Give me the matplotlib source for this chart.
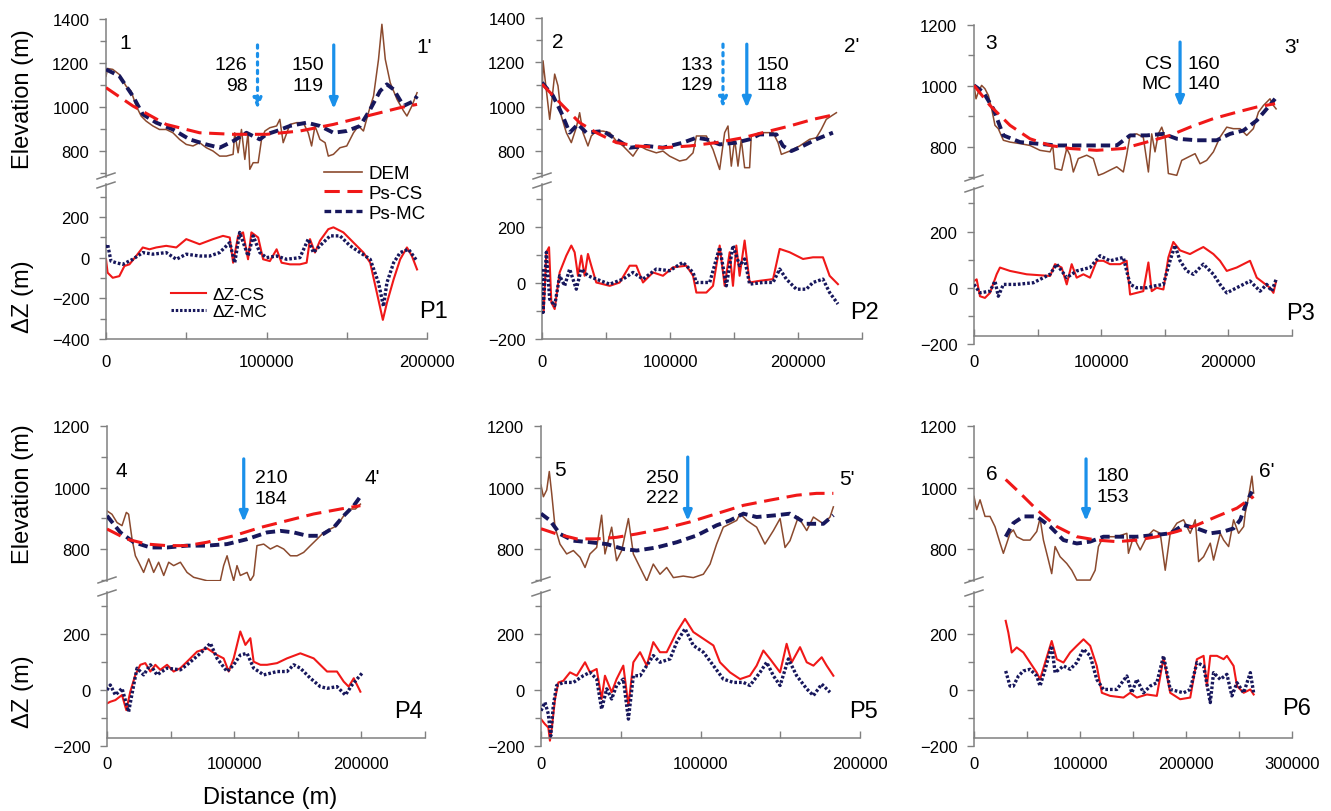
import numpy as np
import matplotlib
matplotlib.use('Agg')
import matplotlib.pyplot as plt
from matplotlib.lines import Line2D
from matplotlib.ticker import MultipleLocator, FixedLocator

plt.rcParams['font.family'] = ['Liberation Sans', 'DejaVu Sans']

W, H = 1331, 812
BROWN = '#8b4a2e'
RED = '#f01818'
NAVY = '#17175c'
BLUE = '#1a90ea'
GREY = '#808080'

# ---- profile data: (distance km, value) ----
p1_dem = [(0, 1140), (1.0, 1175), (4.2, 1171), (8.3, 1148), (12.5, 1095), (14.6, 1080), (15.6, 1073),
          (18.8, 1005), (21.9, 959), (25.0, 936), (29.2, 914), (33.3, 898), (37.5, 898), (41.7, 883),
          (45.8, 853), (50.0, 830), (54.2, 823), (58.3, 838), (62.5, 815), (66.7, 800), (70.8, 777),
          (75.0, 777), (79.2, 785), (80.2, 883), (82.3, 792), (84.4, 898), (86.5, 762), (88.5, 883),
          (89.6, 717), (91.7, 747), (94.8, 747), (96.9, 853), (99.0, 891), (102.1, 906), (106.3, 914),
          (108.3, 944), (110.4, 838), (114.6, 921), (118.8, 929), (122.9, 929), (126.0, 883), (128.1, 823),
          (130.2, 914), (133.3, 853), (136.5, 838), (138.5, 777), (141.7, 785), (145.8, 815), (150.0, 823),
          (154.2, 883), (157.3, 914), (160.4, 891), (163.5, 974), (166.7, 1050), (169.8, 1217), (171.9, 1376),
          (174.0, 1217), (177.1, 1110), (181.3, 1035), (185.4, 982), (187.5, 959), (190.6, 1005), (193.8, 1065)]
p1_cs = [(0, 1088), (16.7, 1005), (37.5, 921), (58.3, 883), (79.2, 876), (100, 876), (120.8, 891),
         (141.7, 921), (162.5, 959), (183.3, 997), (193.8, 1012)]
p1_mc = [(0, 1171), (8.3, 1141), (16.7, 1050), (22.9, 967), (31.3, 929), (41.7, 898), (52.1, 853),
         (62.5, 830), (70.8, 815), (79.2, 845), (87.5, 883), (95.8, 853), (100, 876), (106.3, 891),
         (114.6, 914), (125, 929), (133.3, 914), (141.7, 883), (150, 891), (158.3, 914), (164.6, 989),
         (170.8, 1073), (175, 1103), (179.2, 1080), (185.4, 1005), (191.7, 1027), (193.8, 1050)]
p1_dcs = [(0, -8), (1.0, -74), (4.2, -99), (8.3, -91), (11.5, -41), (14.6, -33), (18.8, 8), (22.9, 50),
          (27.1, 41), (31.3, 50), (37.5, 58), (43.8, 50), (50, 91), (58.3, 66), (66.7, 91), (72.9, 107),
          (77.1, 99), (79.2, -25), (82.3, 107), (85.4, 124), (88.5, -8), (90.6, 124), (94.8, 99), (97.9, -8),
          (102.1, -17), (106.3, 41), (109.4, -25), (114.6, -33), (120.8, -33), (125, -25), (127.1, 91),
          (130.2, 25), (133.3, 83), (138.5, 140), (141.7, 149), (147.9, 124), (154.2, 74), (160.4, 25),
          (164.6, -25), (168.8, -174), (172.5, -306), (175, -223), (179.2, -107), (183.3, -8), (187.5, 50),
          (190.6, 8), (193.8, -58)]
p1_dmc = [(0, 50), (1.0, 66), (3.1, -17), (6.3, -25), (10.4, -33), (16.7, -8), (22.9, 25), (29.2, 17),
          (37.5, 25), (43.8, -8), (50, 17), (58.3, 8), (64.6, 8), (70.8, 25), (77.1, 74), (80.2, -25),
          (83.3, 124), (88.5, 8), (91.7, 107), (95.8, 25), (100, 0), (106.3, 8), (112.5, -8), (120.8, 0),
          (126, 91), (129.2, 25), (133.3, 58), (139.6, 107), (145.8, 107), (152.1, 58), (158.3, 25),
          (164.6, -8), (169.8, -124), (172.9, -240), (175, -124), (179.2, -25), (183.3, 25), (188.5, 41),
          (193.8, -17)]

p2_dem = [(0, 1034), (0.8, 1207), (2.1, 1139), (3.9, 1049), (6.0, 943), (8.1, 1049), (9.9, 1147),
          (12.5, 1094), (15.1, 958), (19.0, 883), (22.9, 838), (26.8, 906), (29.4, 973), (32.0, 883),
          (35.9, 823), (38.5, 868), (42.4, 890), (47.7, 890), (52.9, 883), (58.1, 845), (63.3, 823),
          (71.1, 777), (76.3, 823), (81.5, 807), (89.3, 792), (94.5, 800), (99.7, 777), (107.5, 755),
          (112.8, 762), (118.0, 792), (120.6, 868), (128.4, 868), (133.6, 807), (138.8, 717), (142.7, 883),
          (145.3, 913), (147.9, 732), (150.5, 853), (153.1, 732), (155.7, 853), (158.3, 725), (162.2, 725),
          (163.5, 868), (170.0, 883), (175.3, 883), (180.5, 883), (184.4, 838), (187.0, 785), (193.5, 800),
          (201.3, 823), (209.1, 853), (214.3, 860), (218.2, 898), (222.1, 943), (226.0, 958), (230.0, 973)]
p2_cs = [(0, 1102), (16.4, 1004), (29.4, 928), (42.4, 883), (58.1, 838), (73.7, 823), (94.5, 815),
         (115.4, 823), (136.2, 838), (157.0, 860), (172.6, 883), (193.5, 913), (211.7, 943), (230.0, 966)]
p2_mc = [(0, 1109), (8.6, 1049), (15.1, 973), (21.6, 883), (28.1, 921), (34.6, 883), (47.7, 890),
         (58.1, 853), (68.5, 815), (81.5, 823), (94.5, 815), (110.1, 838), (120.6, 860), (128.4, 853),
         (138.8, 830), (151.8, 838), (162.2, 853), (170.0, 875), (183.1, 875), (188.3, 823), (194.8, 800),
         (203.9, 823), (214.3, 853), (227.3, 883)]
p2_dcs = [(0, -58), (1.3, -105), (3.4, 110), (5.5, 128), (7.3, -69), (9.9, -93), (13.8, 38), (19.0, 98),
          (22.9, 134), (25.5, 110), (28.1, 26), (30.7, 98), (33.3, 26), (35.9, 104), (38.5, 62), (42.4, 2),
          (52.9, -10), (60.7, 2), (68.5, 62), (73.7, 62), (78.9, 2), (86.7, 38), (94.5, 26), (102.3, 56),
          (112.8, 62), (118.0, 26), (120.6, -34), (128.4, -34), (133.6, -10), (138.8, 134), (142.7, -10),
          (146.6, 110), (149.2, -10), (151.8, 134), (154.4, 26), (158.3, 152), (162.2, 2), (170.0, 8),
          (180.5, 14), (185.7, 122), (193.5, 110), (203.9, 86), (211.7, 92), (219.5, 92), (224.7, 26),
          (231.2, -4)]
p2_dmc = [(0, 50), (0.8, -105), (3.4, 110), (6.0, -58), (9.9, -81), (13.8, 26), (17.7, -10), (21.6, 50),
          (26.8, -22), (30.7, 50), (35.9, 26), (42.4, 14), (52.9, -4), (63.3, 14), (71.1, 38), (78.9, 14),
          (89.3, 50), (99.7, 44), (110.1, 74), (118.0, 38), (120.6, 2), (131.0, 2), (138.8, 128),
          (144.0, -10), (149.2, 134), (154.4, 62), (158.3, 86), (162.2, -4), (172.6, 2), (180.5, 2),
          (185.7, 50), (190.9, 14), (198.7, -22), (206.5, -22), (211.7, 2), (219.5, 14), (224.7, -34),
          (231.2, -75)]

p3_dem = [(0, 1002), (1.6, 958), (3.4, 980), (6.0, 1002), (8.6, 991), (11.3, 969), (13.9, 925), (16.5, 871),
          (19.1, 860), (23.1, 822), (28.3, 816), (36.2, 811), (44.0, 805), (51.9, 789), (59.8, 784),
          (61.9, 805), (63.7, 729), (68.9, 724), (72.9, 795), (75.5, 773), (78.1, 718), (82.0, 762),
          (88.6, 773), (93.8, 762), (97.8, 707), (101.7, 713), (106.9, 724), (112.2, 735), (117.4, 718),
          (120.0, 773), (122.7, 838), (127.9, 843), (133.1, 832), (137.1, 718), (139.7, 843), (142.3, 784),
          (144.9, 843), (147.6, 865), (150.2, 832), (152.8, 713), (159.4, 707), (163.3, 756), (168.5, 767),
          (173.8, 778), (177.7, 745), (182.9, 756), (188.2, 784), (193.4, 832), (198.7, 865), (203.9, 860),
          (209.2, 860), (214.4, 838), (219.6, 860), (223.6, 914), (227.5, 936), (232.7, 958), (235.4, 936),
          (237.5, 925)]
p3_cs = [(0, 1002), (12.6, 936), (28.3, 871), (44.0, 827), (59.8, 805), (75.5, 795), (96.5, 789),
         (117.4, 795), (135.8, 816), (154.1, 838), (169.8, 865), (188.2, 893), (206.5, 914), (222.3, 931),
         (236.7, 942)]
p3_mc = [(0, 1002), (7.3, 980), (15.2, 925), (23.1, 838), (36.2, 816), (49.3, 811), (65.0, 805), (80.7, 805),
         (96.5, 805), (112.2, 805), (122.7, 838), (135.8, 838), (148.9, 843), (159.4, 827), (175.1, 822),
         (190.8, 822), (201.3, 843), (211.8, 854), (222.3, 887), (230.1, 925), (236.7, 958)]
p3_dcs = [(0, 24), (2.1, 30), (4.7, -30), (8.6, -36), (12.6, -18), (17.8, 48), (20.4, 72), (28.3, 60),
          (41.4, 48), (59.8, 42), (63.7, 84), (68.9, 72), (72.9, 12), (76.8, 84), (80.7, 36), (86.0, 48),
          (91.2, 36), (96.5, 96), (101.7, 96), (106.9, 84), (114.8, 84), (120.0, 96), (122.7, -24),
          (127.9, -18), (133.1, -12), (137.1, 90), (139.7, -12), (143.6, 0), (148.9, -6), (152.8, 108),
          (156.7, 163), (162.0, 133), (169.8, 120), (175.1, 133), (180.3, 145), (188.2, 120), (193.4, 96),
          (198.7, 60), (206.5, 72), (217.0, 96), (222.3, 36), (227.5, 18), (232.7, 0), (235.4, -18),
          (237.5, 24)]
p3_dmc = [(0, 12), (4.7, -18), (12.6, -12), (16.5, 24), (19.1, -30), (23.1, 12), (33.5, 12), (46.7, 18),
          (59.8, 48), (65.0, 84), (72.9, 36), (80.7, 60), (91.2, 72), (99.1, 114), (106.9, 96), (117.4, 108),
          (122.7, 12), (127.9, 0), (135.8, 0), (141.0, 6), (148.9, 12), (154.1, 96), (158.0, 151),
          (162.0, 96), (167.2, 60), (172.5, 48), (180.3, 84), (188.2, 48), (193.4, 12), (198.7, -18),
          (206.5, 0), (217.0, 24), (224.9, -12), (230.1, 12), (234.1, -12), (237.5, 30)]

p4_dem = [(0, 924), (3.9, 913), (7.9, 886), (11.8, 876), (15.2, 919), (17.0, 913), (19.7, 832), (22.3, 778),
          (24.9, 757), (28.8, 724), (32.8, 768), (36.7, 724), (40.6, 757), (44.6, 714), (48.5, 757),
          (52.4, 746), (57.7, 757), (62.9, 724), (68.1, 708), (78.6, 697), (89.1, 697), (91.7, 746),
          (94.4, 778), (97.0, 735), (99.6, 697), (102.2, 746), (104.8, 714), (110.1, 724), (112.7, 697),
          (115.3, 714), (117.9, 811), (123.2, 816), (128.4, 800), (133.7, 811), (138.9, 800), (144.2, 778),
          (149.4, 778), (154.6, 789), (159.9, 811), (165.1, 832), (170.4, 854), (175.6, 865), (180.8, 876),
          (186.1, 908), (191.3, 930), (195.3, 930), (199.2, 946)]
p4_cs = [(0, 865), (15.7, 832), (31.5, 816), (47.2, 811), (62.9, 811), (78.6, 822), (99.6, 843),
         (120.6, 870), (141.5, 892), (162.5, 914), (183.5, 930), (199.2, 941)]
p4_mc = [(0, 908), (10.5, 854), (21.0, 822), (34.1, 805), (47.2, 805), (62.9, 811), (78.6, 811), (94.4, 816),
         (110.1, 832), (125.8, 854), (136.3, 859), (146.8, 854), (157.3, 843), (167.7, 843), (178.2, 870),
         (186.1, 908), (194.0, 941), (200.5, 978)]
p4_dcs = [(0, -48), (2.6, -42), (6.6, -36), (11.8, -18), (15.2, -72), (18.3, -6), (22.3, 54), (26.2, 90),
          (30.1, 96), (34.1, 66), (38.0, 90), (41.9, 72), (47.2, 90), (52.4, 66), (57.7, 78), (62.9, 101),
          (70.8, 137), (78.6, 149), (86.5, 125), (91.7, 113), (95.7, 66), (99.6, 113), (104.8, 209),
          (108.8, 161), (112.7, 185), (115.3, 101), (120.6, 90), (125.8, 90), (133.7, 96), (141.5, 113),
          (152.0, 131), (162.5, 113), (173.0, 66), (180.8, 66), (186.1, 30), (190.0, 12), (194.0, 42),
          (199.2, -6)]
p4_dmc = [(0, 0), (2.6, 18), (6.6, -18), (11.8, 6), (17.0, -78), (21.0, 18), (23.6, 78), (28.8, 54),
          (34.1, 90), (39.3, 54), (47.2, 78), (57.7, 72), (62.9, 90), (73.4, 131), (81.3, 167), (86.5, 113),
          (94.4, 66), (99.6, 90), (104.8, 125), (110.1, 131), (115.3, 78), (123.2, 54), (133.7, 66),
          (141.5, 66), (146.8, 90), (152.0, 78), (159.9, 42), (167.7, 12), (173.0, 6), (180.8, 12),
          (187.4, -18), (192.6, 18), (200.5, 60)]

p5_dem = [(0, 1008), (1.5, 970), (3.6, 992), (5.2, 1052), (6.7, 981), (8.8, 871), (11.9, 816), (16.1, 784),
          (20.3, 795), (24.5, 773), (27.6, 740), (30.7, 784), (34.9, 805), (38.0, 910), (40.1, 784),
          (44.3, 871), (47.4, 762), (50.6, 795), (54.8, 899), (57.9, 784), (62.1, 740), (66.3, 696),
          (70.4, 751), (74.6, 718), (78.8, 740), (83.0, 707), (89.2, 712), (95.5, 707), (101.8, 718),
          (106.0, 751), (110.1, 816), (114.3, 871), (118.5, 882), (122.7, 893), (124.8, 915), (129.0, 893),
          (135.2, 871), (140.4, 816), (145.7, 860), (149.9, 899), (153.0, 805), (156.1, 827), (161.3, 904),
          (166.6, 860), (170.8, 904), (177.0, 882), (181.2, 904), (183.3, 937)]
p5_cs = [(0, 866), (9.8, 849), (22.4, 833), (34.9, 833), (47.4, 838), (60.0, 849), (76.7, 866), (93.4, 888),
         (110.1, 915), (126.9, 942), (143.6, 959), (160.3, 975), (172.8, 981), (183.3, 981)]
p5_mc = [(0, 915), (5.6, 893), (11.9, 849), (20.3, 827), (30.7, 822), (41.2, 816), (51.6, 800), (60.0, 795),
         (72.5, 805), (85.1, 822), (97.6, 844), (110.1, 877), (118.5, 893), (126.9, 915), (135.2, 904),
         (147.8, 910), (156.1, 915), (166.6, 882), (177.0, 882), (183.3, 910)]
p5_dcs = [(0, -104), (2.5, -122), (4.6, -134), (5.6, -181), (6.7, -140), (8.8, -32), (10.9, 27), (14.0, 33),
          (18.2, 63), (22.4, 51), (27.6, 99), (30.7, 63), (34.9, 75), (38.0, -32), (40.1, 51), (44.3, -8),
          (47.4, 39), (51.6, 87), (54.8, -56), (57.9, 99), (62.1, 135), (66.3, 87), (70.4, 171), (74.6, 135),
          (78.8, 135), (85.1, 207), (90.3, 254), (95.5, 207), (101.8, 183), (108.1, 159), (112.2, 99),
          (118.5, 63), (124.8, 39), (131.0, 51), (135.2, 87), (139.4, 141), (143.6, 111), (149.9, 63),
          (154.0, 165), (157.2, 99), (162.4, 153), (166.6, 99), (170.8, 87), (176.0, 117), (179.1, 87),
          (183.3, 51)]
p5_dmc = [(0, -74), (2.5, -44), (4.6, -86), (6.1, -164), (7.7, -56), (9.8, 16), (14.0, 27), (20.3, 27),
          (26.5, 51), (30.7, 63), (34.9, 39), (38.0, -68), (41.2, 4), (44.3, -32), (47.4, 16), (51.6, 39),
          (54.8, -104), (57.9, 51), (62.1, 51), (66.3, 87), (70.4, 123), (74.6, 99), (80.9, 111), (85.1, 171),
          (90.3, 219), (95.5, 159), (101.8, 135), (108.1, 87), (114.3, 39), (120.6, 27), (126.9, 27),
          (131.0, 16), (137.3, 63), (141.5, 99), (145.7, 51), (149.9, 16), (155.1, 111), (160.3, 51),
          (166.6, 4), (170.8, -20), (176.0, 21), (181.2, -8)]

p6_dem = [(0, 971), (2.5, 928), (5.7, 960), (10.4, 906), (15.1, 906), (19.8, 873), (24.6, 819), (27.7, 786),
          (30.9, 819), (34.0, 851), (37.1, 862), (40.3, 840), (46.6, 829), (52.9, 829), (59.2, 857),
          (62.3, 900), (65.5, 829), (70.2, 764), (73.3, 720), (76.5, 808), (81.2, 775), (87.5, 753),
          (92.2, 731), (97.0, 699), (109.6, 699), (114.3, 731), (117.4, 808), (122.1, 840), (134.7, 840),
          (144.2, 851), (145.7, 786), (150.5, 840), (156.8, 797), (163.1, 840), (169.4, 862), (175.7, 851),
          (180.4, 731), (185.1, 851), (191.4, 884), (197.7, 895), (204.0, 851), (208.7, 895), (211.9, 759),
          (216.6, 775), (222.9, 819), (226.0, 764), (232.3, 851), (235.5, 829), (240.2, 808), (244.9, 895),
          (249.6, 851), (254.4, 873), (255.9, 917), (259.1, 971), (262.2, 1037), (263.8, 982)]
p6_cs = [(29.9, 1026), (43.4, 982), (59.2, 928), (78.1, 873), (97.0, 840), (115.8, 829), (134.7, 824),
         (153.6, 829), (172.5, 840), (191.4, 857), (210.3, 878), (229.2, 906), (248.1, 933), (263.8, 971)]
p6_mc = [(29.9, 840), (37.1, 884), (46.6, 906), (59.2, 906), (71.8, 873), (84.4, 829), (97.0, 818),
         (109.6, 824), (122.1, 840), (141.0, 840), (153.6, 840), (172.5, 846), (185.1, 851), (197.7, 878),
         (210.3, 867), (222.9, 851), (235.5, 857), (244.9, 867), (251.2, 895), (257.5, 955), (262.2, 987)]
p6_dcs = [(29.9, 247), (32.4, 205), (35.6, 134), (40.3, 152), (46.6, 134), (52.9, 98), (59.2, 62), (62.3, 38),
          (67.1, 98), (73.3, 175), (78.1, 110), (84.4, 98), (90.7, 134), (97.0, 158), (103.3, 181),
          (109.6, 158), (115.8, 86), (120.6, -10), (128.4, -21), (141.0, -27), (147.3, -10), (153.6, -27),
          (163.1, -16), (172.5, -21), (178.8, 116), (185.1, -10), (194.5, -33), (204.0, -27), (210.3, 110),
          (216.6, 122), (219.7, 14), (222.9, 122), (229.2, 122), (235.5, 110), (238.6, 122), (244.9, 86),
          (248.1, 14), (254.4, -10), (260.7, 2), (263.8, -16)]
p6_dmc = [(29.9, 68), (34.0, 14), (37.1, 14), (41.9, 50), (46.6, 68), (52.9, 74), (59.2, 50), (62.3, 14),
          (67.1, 74), (73.3, 158), (76.5, 62), (84.4, 86), (90.7, 74), (97.0, 98), (103.3, 146), (109.6, 122),
          (115.8, 38), (122.1, 2), (134.7, 2), (144.2, 50), (148.9, -10), (153.6, 38), (159.9, -10),
          (166.2, 14), (172.5, 26), (178.8, 122), (185.1, 2), (197.7, -10), (204.0, 2), (210.3, 98),
          (216.6, 86), (222.9, -45), (226.0, 62), (232.3, 38), (238.6, 56), (243.3, -21), (248.1, 26),
          (254.4, -10), (260.7, 62), (263.8, -10)]

# arrows: (distance km, dotted?)
p1_arrows = [(94.4, True), (141.9, False)]
p2_arrows = [(141.4, True), (160.0, False)]
p3_arrows = [(162.0, False)]
p4_arrows = [(107.5, False)]
p5_arrows = [(92.0, False)]
p6_arrows = [(105.7, False)]


def fx(px):
    return px / W


def fy(py):
    return 1 - py / H


def xy(pts):
    a = np.array(pts, dtype=float)
    return a[:, 0] * 1000, a[:, 1]


fig = plt.figure(figsize=(W / 100, H / 100), dpi=100)


def panel(box, up_lim, lo_lim, xmax, xcross, xpad, dem, cs, mc, dcs, dmc):
    left, right, ut, ub, lt, lb = box
    axu = fig.add_axes([fx(left), fy(ub), (right - left) / W, (ub - ut) / H])
    axl = fig.add_axes([fx(left), fy(lb), (right - left) / W, (lb - lt) / H])
    for ax in (axu, axl):
        ax.set_xlim(0, xmax)
        ax.patch.set_alpha(0)
        ax.spines['top'].set_visible(False)
        ax.spines['right'].set_visible(False)
        ax.spines['left'].set_color(GREY)
        ax.spines['left'].set_linewidth(1.1)
        ax.yaxis.set_major_locator(MultipleLocator(200))
        ax.yaxis.set_minor_locator(MultipleLocator(100))
        ax.tick_params(axis='y', which='both', direction='out', color=GREY, width=1.0,
                       labelsize=12, pad=7)
        ax.tick_params(axis='y', which='major', length=5)
        ax.tick_params(axis='y', which='minor', length=4)
    axu.set_ylim(*up_lim)
    axl.set_ylim(*lo_lim)
    axu.spines['bottom'].set_visible(False)
    axu.tick_params(axis='x', which='both', bottom=False, labelbottom=False)

    axl.spines['bottom'].set_position(('data', xcross))
    axl.spines['bottom'].set_color(GREY)
    axl.spines['bottom'].set_linewidth(1.1)
    majors = list(range(0, int(xmax) + 1, 100000))
    axl.xaxis.set_major_locator(FixedLocator(majors))
    axl.xaxis.set_minor_locator(FixedLocator([m + 50000 for m in majors if m + 50000 <= xmax]))
    axl.set_xticklabels([str(m) for m in majors])
    axl.tick_params(axis='x', which='both', direction='in', color=GREY, width=1.0, length=5,
                    labelsize=12, pad=xpad)

    x, z = xy(dem)
    axu.plot(x, z, color=BROWN, lw=1.1, zorder=2)
    x, z = xy(mc)
    axu.plot(x, z, color=NAVY, lw=2.8, dashes=(2.4, 1.3), zorder=3)
    x, z = xy(cs)
    axu.plot(x, z, color=RED, lw=2.2, dashes=(5, 2.5), zorder=4)
    x, z = xy(dcs)
    axl.plot(x, z, color=RED, lw=1.5, zorder=2)
    x, z = xy(dmc)
    axl.plot(x, z, color=NAVY, lw=2.4, dashes=(0.8, 0.6), zorder=3)

    # break marks on the left axis
    for yb in (ub - 1, lt + 1):
        fig.add_artist(Line2D([fx(left - 9), fx(left + 9)], [fy(yb + 3), fy(yb - 3)],
                              color=GREY, lw=1.1))
    return axu, axl


def arrows(ax, items, y0, y1):
    for xk, dotted in items:
        ax.annotate('', xy=(xk * 1000, y1), xytext=(xk * 1000, y0),
                    arrowprops=dict(arrowstyle='-|>,head_width=0.25,head_length=0.6', color=BLUE,
                                    lw=2.3, linestyle=':' if dotted else '-',
                                    shrinkA=0, shrinkB=0))


def label(ax, xk, y, s, ha='center', size=14):
    ax.text(xk * 1000, y, s, ha=ha, va='center', fontsize=size, linespacing=1.3, clip_on=False)


# ---- P1 ----
u, l = panel((106, 427, 20, 178, 185, 340), (682, 1400), (-400, 362), 200000, -400, 11,
             p1_dem, p1_cs, p1_mc, p1_dcs, p1_dmc)
arrows(u, p1_arrows, 1282, 991)
label(u, 88.1, 1145, '126\n98', ha='right')
label(u, 135.6, 1145, '150\n119', ha='right')
label(u, 11.9, 1295, '1', size=15)
label(u, 198.0, 1277, "1'", size=15)
label(l, 203.8, -260, 'P1', size=17)

# ---- P2 ----
u, l = panel((542, 862, 19, 178, 185, 340), (683, 1400), (-200, 354), 250000, -200, 11,
             p2_dem, p2_cs, p2_mc, p2_dcs, p2_dmc)
arrows(u, p2_arrows, 1282, 995)
label(u, 133.6, 1145, '133\n129', ha='right')
label(u, 167.2, 1145, '150\n118', ha='left')
label(u, 12.5, 1292, '2', size=15)
label(u, 242.0, 1274, "2'", size=15)
label(l, 252.3, -104, 'P2', size=17)

# ---- P3 ----
u, l = panel((974, 1292, 26, 180, 189, 345), (695, 1200), (-200, 355), 250000, -170, 13,
             p3_dem, p3_cs, p3_mc, p3_dcs, p3_dmc)
arrows(u, p3_arrows, 1144, 931)
label(u, 155.6, 1041, 'CS\nMC', ha='right')
label(u, 167.5, 1041, '160\n140', ha='left')
label(u, 13.5, 1144, '3', size=15)
label(u, 250.0, 1131, "3'", size=15)
label(l, 256.3, -90, 'P3', size=17)

# ---- P4 ----
u, l = panel((107, 425, 427, 582, 593, 747), (696, 1200), (-200, 350), 250000, -170, 13,
             p4_dem, p4_cs, p4_mc, p4_dcs, p4_dmc)
arrows(u, p4_arrows, 1093, 888)
label(u, 116.1, 997, '210\n184', ha='left')
label(u, 11.0, 1054, '4', size=15)
label(u, 208.6, 1034, "4'", size=15)
label(l, 236.9, -75, 'P4', size=17)

# ---- P5 ----
u, l = panel((541, 860, 427, 582, 593, 747), (696, 1200), (-200, 350), 200000, -170, 13,
             p5_dem, p5_cs, p5_mc, p5_dcs, p5_dmc)
arrows(u, p5_arrows, 1099, 891)
label(u, 86.3, 1000, '250\n222', ha='right')
label(u, 11.9, 1057, '5', size=15)
label(u, 192.0, 1028, "5'", size=15)
label(l, 202.5, -75, 'P5', size=17)

# ---- P6 ----
u, l = panel((974, 1292, 427, 582, 593, 747), (696, 1200), (-200, 350), 300000, -170, 13,
             p6_dem, p6_cs, p6_mc, p6_dcs, p6_dmc)
arrows(u, p6_arrows, 1093, 891)
label(u, 115.1, 1005, '180\n153', ha='left')
label(u, 17.0, 1047, '6', size=15)
label(u, 276.0, 1054, "6'", size=15)
label(l, 304.7, -64, 'P6', size=17)

# legends (panel P1)
h_top = [Line2D([], [], color=BROWN, lw=1.2),
         Line2D([], [], color=RED, lw=2.2, dashes=(5, 2.5)),
         Line2D([], [], color=NAVY, lw=2.4, dashes=(2.0, 1.2))]
fig.legend(h_top, ['DEM', 'Ps-CS', 'Ps-MC'], loc='upper left', bbox_to_anchor=(fx(324), fy(166)),
           frameon=False, fontsize=13.5, handlelength=2.0, handletextpad=0.4, labelspacing=0.14,
           borderpad=0, borderaxespad=0)
h_bot = [Line2D([], [], color=RED, lw=1.5),
         Line2D([], [], color=NAVY, lw=2.2, dashes=(0.8, 0.6))]
fig.legend(h_bot, ['ΔZ-CS', 'ΔZ-MC'], loc='upper left', bbox_to_anchor=(fx(171), fy(288)),
           frameon=False, fontsize=12.5, handlelength=2.0, handletextpad=0.4, labelspacing=0.12,
           borderpad=0, borderaxespad=0)

# axis titles
fig.text(fx(23), fy(99), 'Elevation (m)', rotation=90, ha='center', va='center', fontsize=17)
fig.text(fx(23), fy(297), 'ΔZ (m)', rotation=90, ha='center', va='center', fontsize=17)
fig.text(fx(23), fy(494), 'Elevation (m)', rotation=90, ha='center', va='center', fontsize=17)
fig.text(fx(23), fy(692), 'ΔZ (m)', rotation=90, ha='center', va='center', fontsize=17)
fig.text(fx(270), fy(798), 'Distance (m)', ha='center', va='center', fontsize=17)

fig.savefig('out.png', dpi=100)
